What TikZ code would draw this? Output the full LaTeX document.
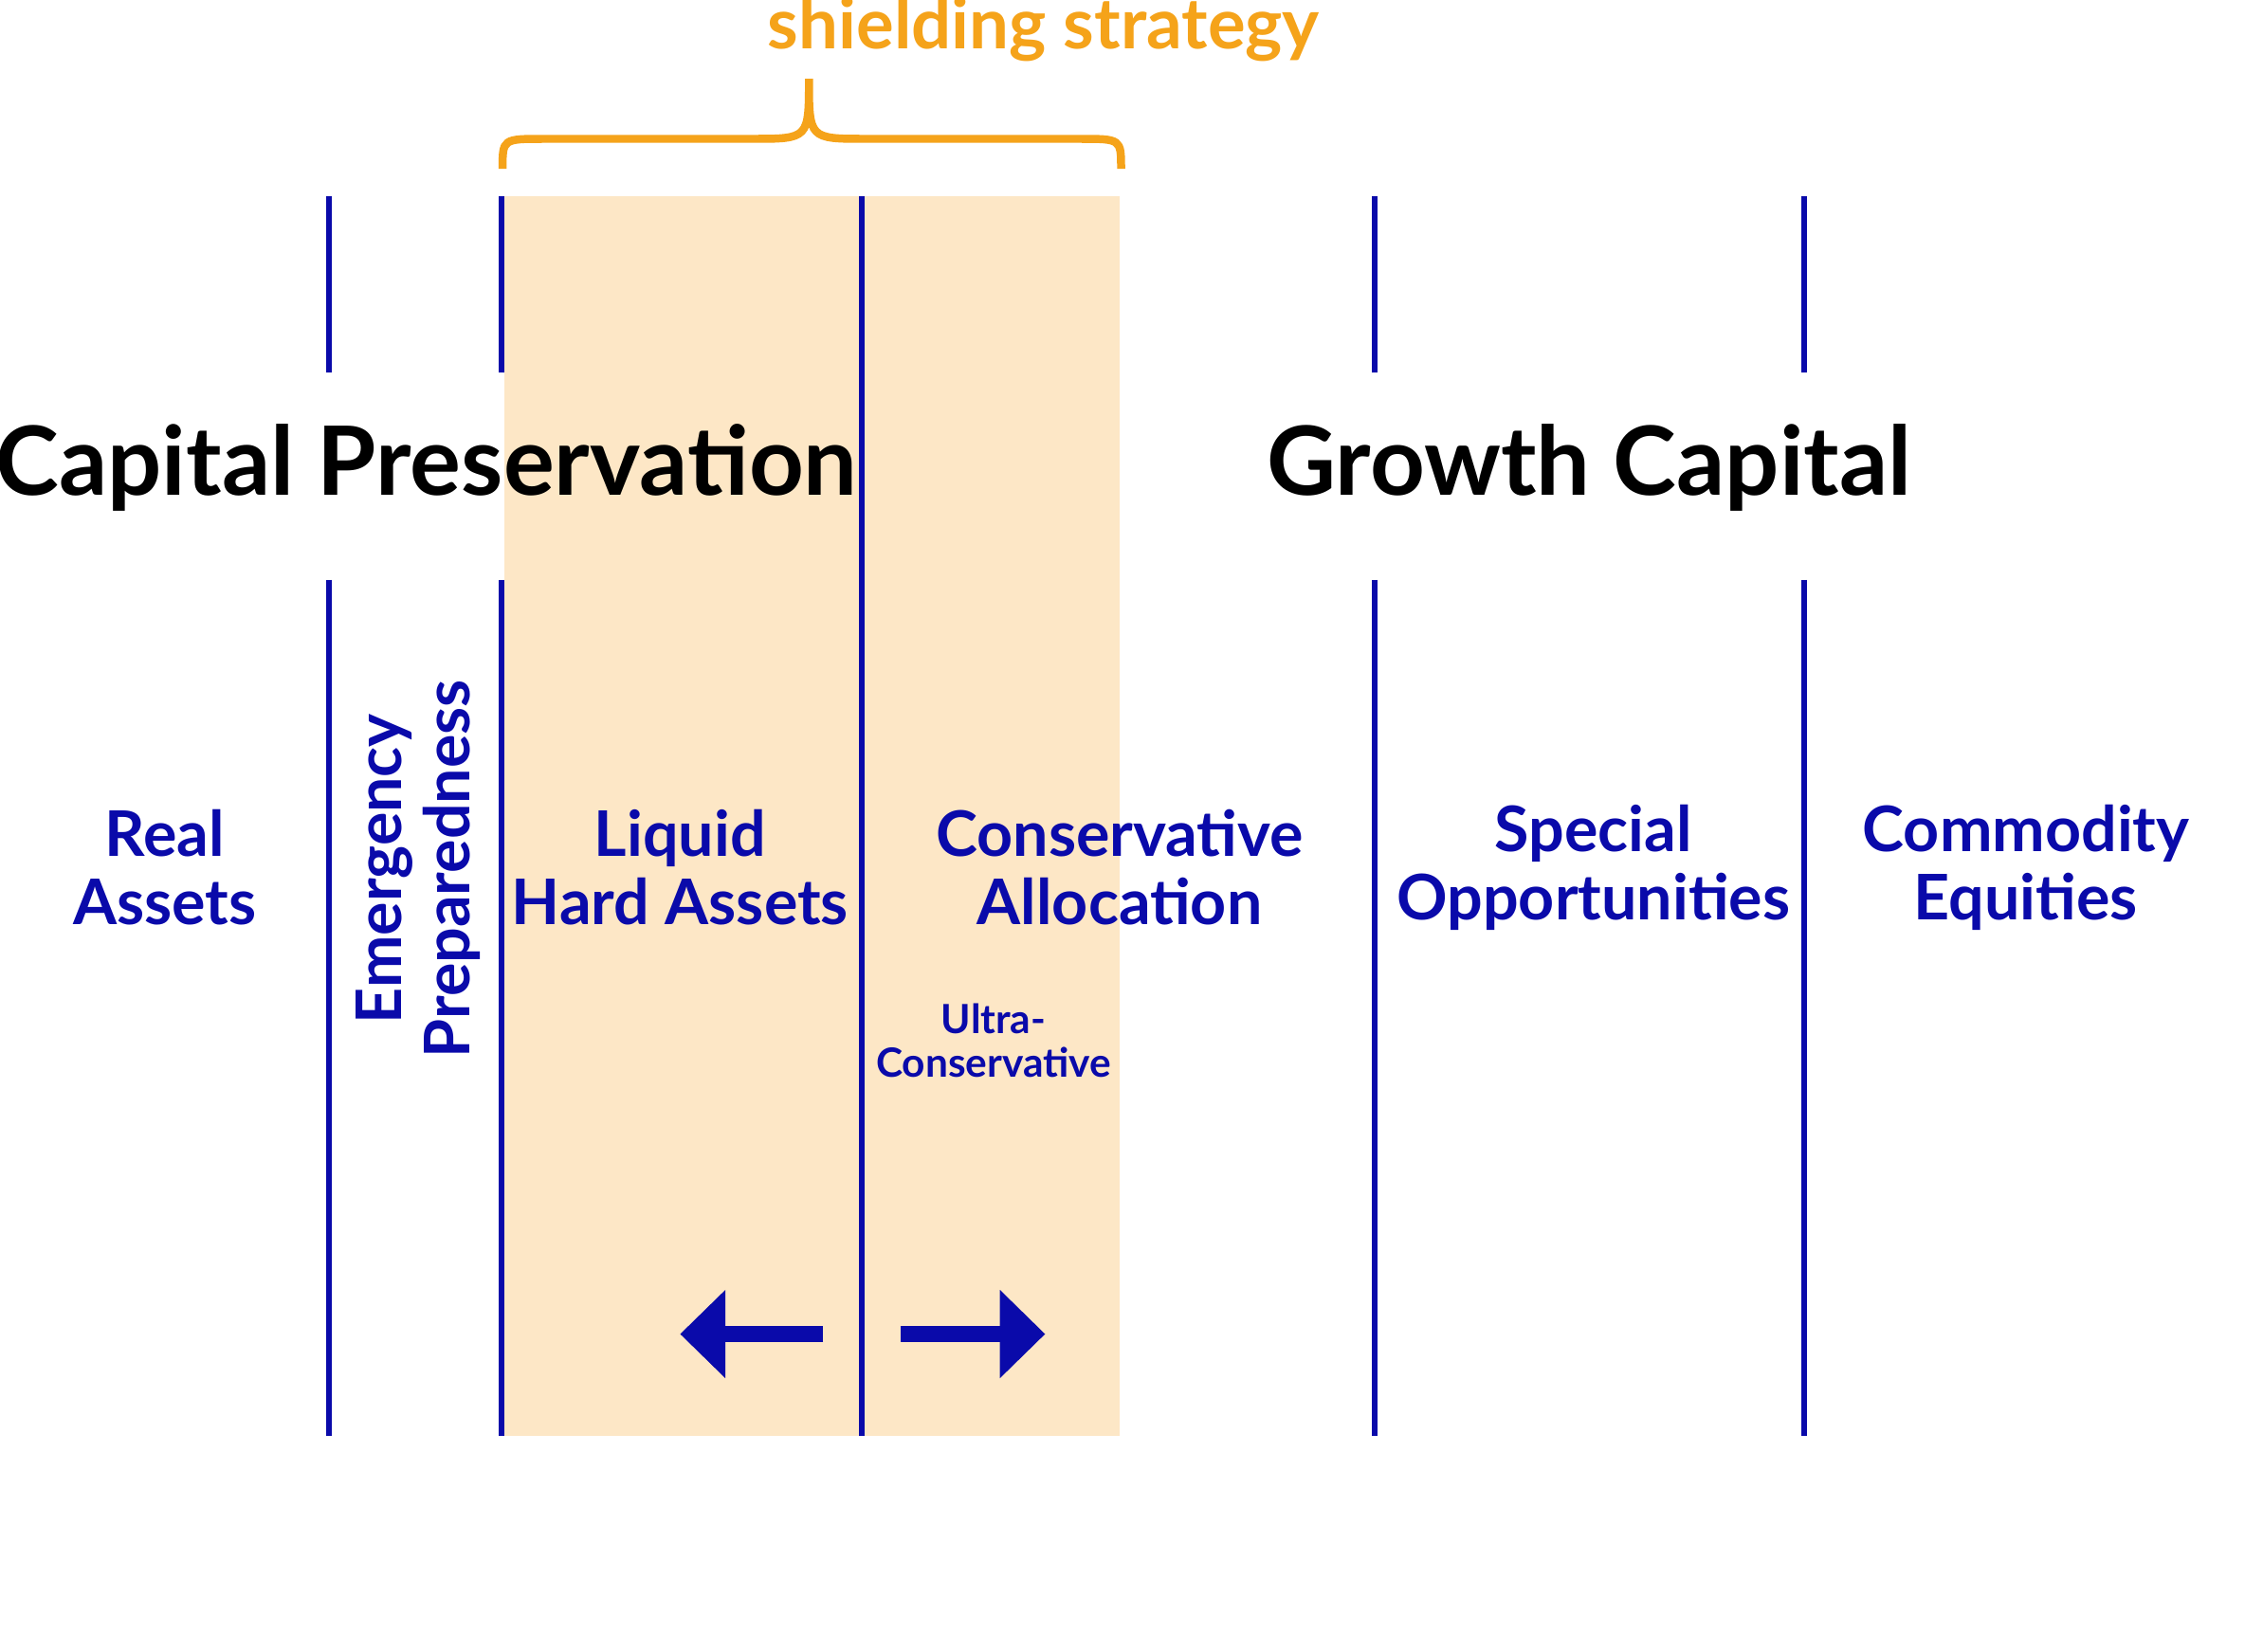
\documentclass[tikz,border=0pt]{standalone}
\usepackage{fontspec}
\setmainfont{Lato}
\usetikzlibrary{arrows.meta}
\definecolor{barblue}{HTML}{0A0AAA}
\definecolor{shieldorange}{HTML}{F5A31A}
\definecolor{shieldfill}{HTML}{FDE7C6}
\tikzset{
  divider/.style={draw=barblue,line width=1.1pt},
  head/.style={font=\fontsize{19}{22}\selectfont\bfseries,text=black},
  bucket/.style={font=\fontsize{12.5}{13.5}\selectfont\bfseries,text=barblue,align=center},
  shift arrow/.style={draw=barblue,line width=3.2pt,-{Triangle[length=9pt,width=17pt]}}
}
\begin{document}
\begin{tikzpicture}
\useasboundingbox (0,0) rectangle (15.68,-11.54);

% shaded shielding zone
\fill[shieldfill] (3.52,-1.37) rectangle (7.82,-10.03);

% dividers
\foreach \x in {2.30,3.50,9.60,12.60}{
  \draw[divider] (\x,-1.37) -- (\x,-2.60);
  \draw[divider] (\x,-4.05) -- (\x,-10.03);
}
\draw[divider] (6.02,-1.37) -- (6.02,-10.03);

% headings
\node[head] (cp) at (2.98,-3.27) {Capital Preservation};
\node[head] (gc) at (11.10,-3.27) {Growth Capital};

% buckets
\node[bucket] (real) at (1.15,-6.06) {Real\\Assets};
\node[bucket,rotate=90] (emer) at (2.92,-6.07) {Emergency\\Preparedness};
\node[bucket] (liquid) at (4.75,-6.06) {Liquid\\Hard Assets};
\node[bucket] (cons) at (7.82,-6.06) {Conservative\\Allocation};
\node[bucket] (spec) at (11.13,-6.06) {Special\\Opportunities};
\node[bucket] (comm) at (14.15,-6.06) {Commodity\\Equities};
\node[bucket,font=\fontsize{8}{8.5}\selectfont\bfseries] (ultra) at (6.94,-7.27) {Ultra-\\Conservative};

% arrows
\coordinate (lstart) at (5.75,-9.32);
\coordinate (lend) at (4.75,-9.32);
\coordinate (rstart) at (6.29,-9.32);
\coordinate (rend) at (7.30,-9.32);
\draw[shift arrow] (lstart) -- (lend);
\draw[shift arrow] (rstart) -- (rend);

% brace
\draw[shieldorange,line width=1.6pt]
  (3.51,-1.18) .. controls (3.51,-0.97) .. (3.80,-0.97) -- (5.25,-0.97)
  .. controls (5.65,-0.97) .. (5.65,-0.55)
  .. controls (5.65,-0.97) .. (6.05,-0.97) -- (7.54,-0.97)
  .. controls (7.83,-0.97) .. (7.83,-1.18);
\node[font=\fontsize{14}{16}\selectfont\bfseries,text=shieldorange] (shield) at (7.29,-0.20) {shielding strategy};
\end{tikzpicture}
\end{document}
